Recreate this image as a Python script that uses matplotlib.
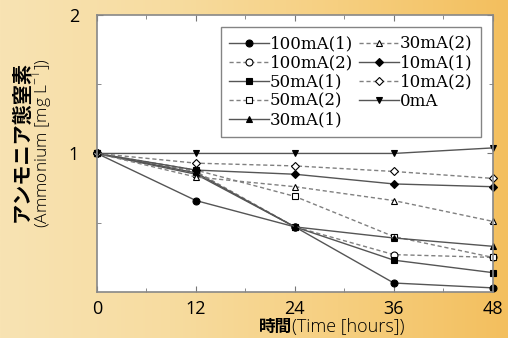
import matplotlib.pyplot as plt
import numpy as np
from matplotlib.colors import LinearSegmentedColormap

# 時間 (hours)
hours = [0, 12, 24, 36, 48]

# アンモニア態窒素 (mg/L) per condition
names = ['100mA(1)', '100mA(2)', '50mA(1)', '50mA(2)', '30mA(1)',
         '30mA(2)', '10mA(1)', '10mA(2)', '0mA']
v100_1 = [1.0, 0.66, 0.47, 0.065, 0.03]
v100_2 = [1.0, 0.87, 0.47, 0.27, 0.25]
v50_1 = [1.0, 0.85, 0.47, 0.23, 0.14]
v50_2 = [1.0, 0.88, 0.69, 0.40, 0.25]
v30_1 = [1.0, 0.86, 0.47, 0.39, 0.33]
v30_2 = [1.0, 0.83, 0.76, 0.66, 0.51]
v10_1 = [1.0, 0.88, 0.85, 0.78, 0.76]
v10_2 = [1.0, 0.93, 0.91, 0.87, 0.82]
v0 = [1.0, 1.0, 1.0, 1.0, 1.04]
series = [v100_1, v100_2, v50_1, v50_2, v30_1, v30_2, v10_1, v10_2, v0]

markers = ['o', 'o', 's', 's', '^', '^', 'D', 'D', 'v']
filled = [True, False, True, False, True, False, True, False, True]
dashed = [False, True, False, True, False, True, False, True, False]

fig = plt.figure(figsize=(5.08, 3.38), dpi=100)

# background gradient
bg = fig.add_axes([0, 0, 1, 1], zorder=-10)
grad = np.linspace(0, 1, 256).reshape(1, -1)
cmap = LinearSegmentedColormap.from_list('bg', ['#f8e3b3', '#f7dca0', '#f6cf80', '#f3bf5e'])
bg.imshow(grad, aspect='auto', cmap=cmap, extent=[0, 1, 0, 1])
bg.axis('off')

ax = fig.add_axes([0.191, 0.136, 0.779, 0.820])
ax.set_facecolor('white')

for vals, name, m, f, d in zip(series, names, markers, filled, dashed):
    ax.plot(hours, vals, color='#555555' if not d else '#808080',
            linestyle=(0, (3, 2)) if d else '-', linewidth=1.0,
            marker=m, markersize=5 if m != 'D' else 4.5,
            markerfacecolor='black' if f else 'white',
            markeredgecolor='black', markeredgewidth=0.8,
            label=name, clip_on=False)

ax.set_xlim(0, 48)
ax.set_ylim(0, 2)
ax.set_xticks([0, 12, 24, 36, 48])
ax.set_xticks([6, 18, 30, 42], minor=True)
ax.set_yticks([1, 2])
ax.set_yticks([0.5, 1.5], minor=True)
ax.tick_params(which='both', direction='in', top=True, right=True,
               color='#777777', labelsize=13)
ax.tick_params(axis='x', pad=6)
ax.tick_params(axis='y', pad=13)
ax.tick_params(which='major', length=4)
ax.tick_params(which='minor', length=3)
for lab in ax.get_xticklabels() + ax.get_yticklabels():
    lab.set_fontfamily('Open Sans')
for s in ax.spines.values():
    s.set_color('#888888')
    s.set_linewidth(1.2)

leg = ax.legend(ncol=2, loc='upper right', bbox_to_anchor=(0.97, 0.955),
                prop={'family': 'DejaVu Serif', 'size': 12},
                frameon=True, fancybox=False, edgecolor='#666666',
                handlelength=2.4, handletextpad=0.05, columnspacing=0.35,
                labelspacing=0.12, borderpad=0.5, borderaxespad=0)
leg.get_frame().set_linewidth(1.0)

# y label
fig.text(0.042, 0.58, 'アンモニア態窒素', rotation=90, ha='center', va='center',
         fontsize=14.5, fontweight='bold', family=['Noto Sans CJK JP', 'DejaVu Sans'])
fig.text(0.083, 0.577, '(Ammonium [mg L$^{\\mathregular{-1}}$])', rotation=90,
         ha='center', va='center', fontsize=12.5, fontweight='light', family='Open Sans')

# x label
t1 = fig.text(259 / 508, 0.006, '時間', ha='left', va='bottom', fontsize=12,
              fontweight='bold', family=['Noto Sans CJK JP', 'DejaVu Sans'])
ax.annotate('(Time [hours])', xy=(1, 0), xycoords=t1, ha='left', va='bottom',
            fontsize=13, fontweight='light', family='Open Sans', annotation_clip=False)

fig.savefig('out.png', dpi=100)
